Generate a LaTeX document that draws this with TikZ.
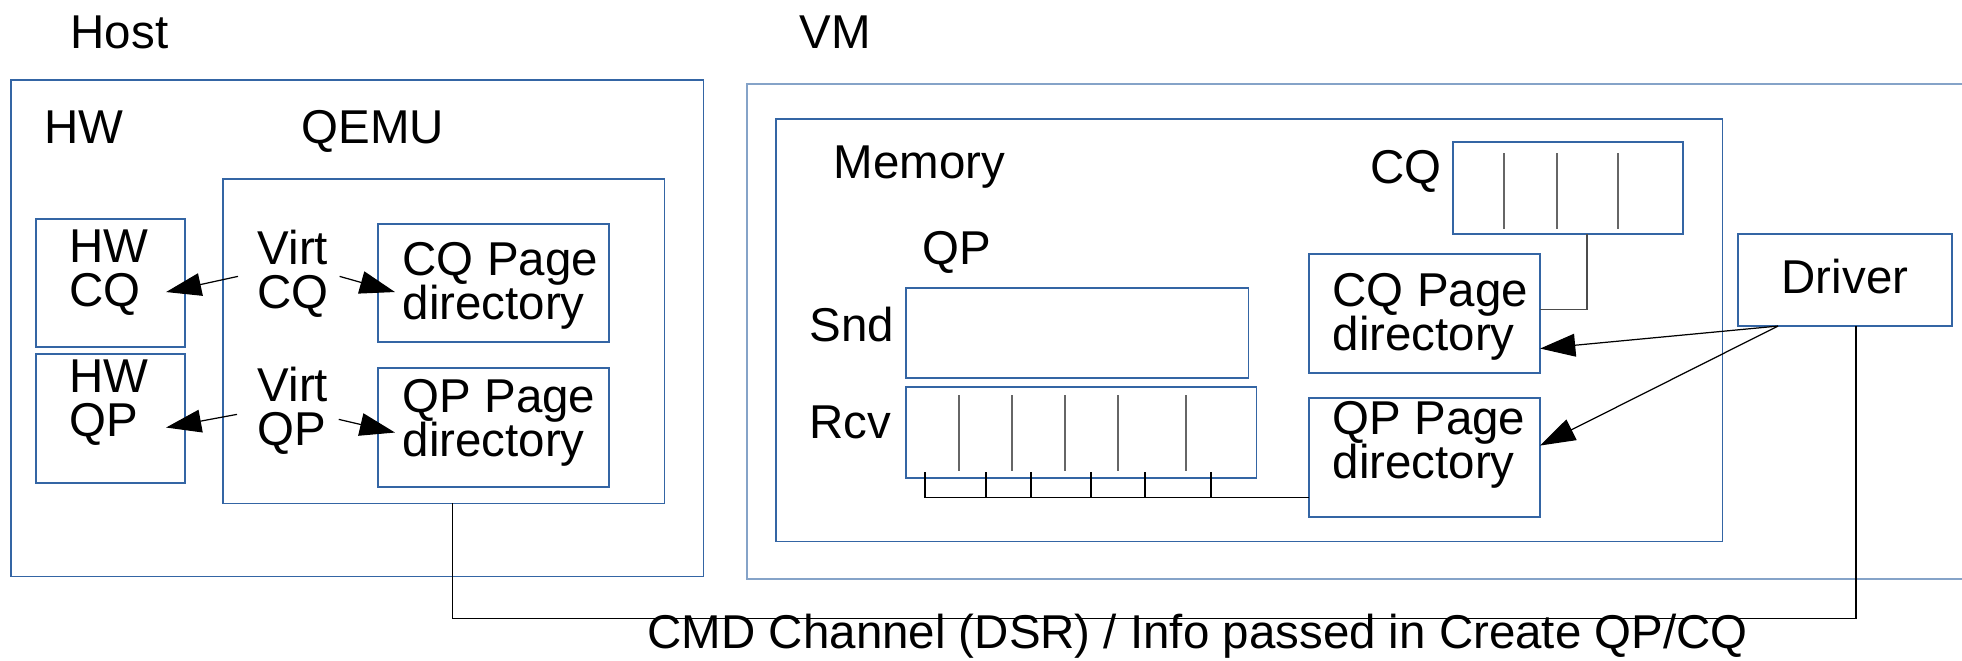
\documentclass[tikz,border=0pt]{standalone}
\usepackage{fontspec}
\setmainfont{Liberation Sans}
\usetikzlibrary{arrows.meta,calc}

\definecolor{boxblue}{RGB}{52,101,164}
\newcommand{\lab}{\fontsize{13.5pt}{12.5pt}\selectfont\lineskiplimit=-\maxdimen}

\tikzset{
	box/.style={draw=boxblue, line width=0.38pt, anchor=north west, inner sep=0pt, outer sep=0pt},
	txt/.style={anchor=base west, inner sep=0pt, font=\lab},
	txtb/.style={anchor=north west, align=left, inner sep=0pt, font=\lab},
	wire/.style={draw=black, line width=0.35pt},
	slot/.style={draw=black!60, line width=0.5pt},
	arr/.style={-{Triangle[length=10pt,width=6.5pt]}, line width=0.35pt},
}

\begin{document}
\begin{tikzpicture}[x=0.01cm, y=-0.01cm]
		\useasboundingbox (0,0) rectangle (1962,660);

			% host
			\node[txt] (host) at (70,48) {Host};
			\node[box, minimum width=6.92cm, minimum height=4.96cm] (hostbox) at (11,80) {};
			\node[txt] (hw) at (44,143) {HW};
			\node[txt] (qemu) at (301,143) {QEMU};
			\node[box, minimum width=4.41cm, minimum height=3.24cm] (qemubox) at (223,179) {};

			\node[box, minimum width=1.49cm, minimum height=1.28cm] (hwcq) at (36,219) {};
			\node[box, minimum width=1.49cm, minimum height=1.29cm] (hwqp) at (36,354) {};
			\node[txtb] (hwcqtxt) at (69,229) {HW\\CQ};
			\node[txtb] (hwqptxt) at (69,359) {HW\\QP};

			\node[txtb] (vcq) at (257,229) {Virt\\CQ};
			\node[txtb] (vqp) at (257,366) {Virt\\QP};

			\node[box, minimum width=2.31cm, minimum height=1.18cm] (hcqdir) at (378,224) {};
			\node[box, minimum width=2.31cm, minimum height=1.19cm] (hqpdir) at (378,368) {};
			\node[txtb] (hcqtxt) at (402,242) {CQ Page\\directory};
			\node[txtb] (hqptxt) at (402,379) {QP Page\\directory};

			\draw[arr] ($(vcq.west)+(-19,3)$) -- ($(hwcq.east)+(-19,9)$);
			\draw[arr] ($(vcq.east)+(10,3)$) -- ($(hcqdir.west)+(17,9)$);
			\draw[arr] ($(vqp.west)+(-20,4)$) -- ($(hwqp.east)+(-19,9)$);
			\draw[arr] ($(vqp.east)+(10,9)$) -- ($(hqpdir.west)+(17,5)$);

			% vm
			\node[txt] (vm) at (799,48) {VM};
			\draw[draw=boxblue!60, line width=0.6pt] (1962,84) -| (747,579) -- (1962,579);
			\node[box, minimum width=9.46cm, minimum height=4.22cm] (membox) at (776,119) {};
			\node[txt] (mem) at (833,178) {Memory};
			\node[txt] (qp) at (922,264) {QP};
			\node[txt] (cq) at (1370,183) {CQ};
			\node[txt] (snd) at (809,341) {Snd};
			\node[txt] (rcv) at (809,438) {Rcv};

			\node[box, minimum width=2.30cm, minimum height=0.92cm] (cqbuf) at (1453,142) {};
			\node[box, minimum width=3.42cm, minimum height=0.90cm] (sndbuf) at (906,288) {};
			\node[box, minimum width=3.50cm, minimum height=0.91cm] (rcvbuf) at (906,387) {};

			\foreach \x in {51,104,165} {
				\draw[slot] ($(cqbuf.north west)+(\x,11)$) -- ++(0,76);
			}
			\foreach \x in {53,106,159,212,280} {
				\draw[slot] ($(rcvbuf.north west)+(\x,8)$) -- ++(0,76);
			}

			\node[box, minimum width=2.31cm, minimum height=1.19cm] (vcqdir) at (1309,254) {};
			\node[box, minimum width=2.31cm, minimum height=1.19cm] (vqpdir) at (1309,398) {};
			\node[txtb] (vcqtxt) at (1332,273) {CQ Page\\directory};
			\node[txtb] (vqptxt) at (1332,401) {QP Page\\directory};

			\node[box, minimum width=2.14cm, minimum height=0.92cm] (drv) at (1738,234) {};
			\node[txt, anchor=base] (drvtxt) at (1845,293) {Driver};

			% rcv entries -> qp page directory
			\draw[wire] ($(rcvbuf.south west)+(19,-6)$) |- ($(vqpdir.west)+(0,40)$);
			\foreach \x in {80,125,185,239,305} {
				\draw[wire] ($(rcvbuf.south west)+(\x,-6)$) -- ++(0,26);
			}
			\draw[wire, draw=black!70] ($(cqbuf.south)+(19,0)$) |- ($(vcqdir.east)+(0,-4)$);

			\draw[arr] ($(drv.south west)+(40,0)$) -- ($(vcqdir.east)+(0,35)$);
			\draw[arr] ($(drv.south west)+(40,0)$) -- ($(vqpdir.east)+(0,-12)$);

			% cmd channel
			\draw[wire] ($(qemubox.south)+(9,0)$) -- ++(0,115) -| ($(drv.south)+(11,0)$);
			\node[txt] (cmd) at (647,648) {CMD Channel (DSR) / Info passed in Create QP/CQ};

\end{tikzpicture}
\end{document}
